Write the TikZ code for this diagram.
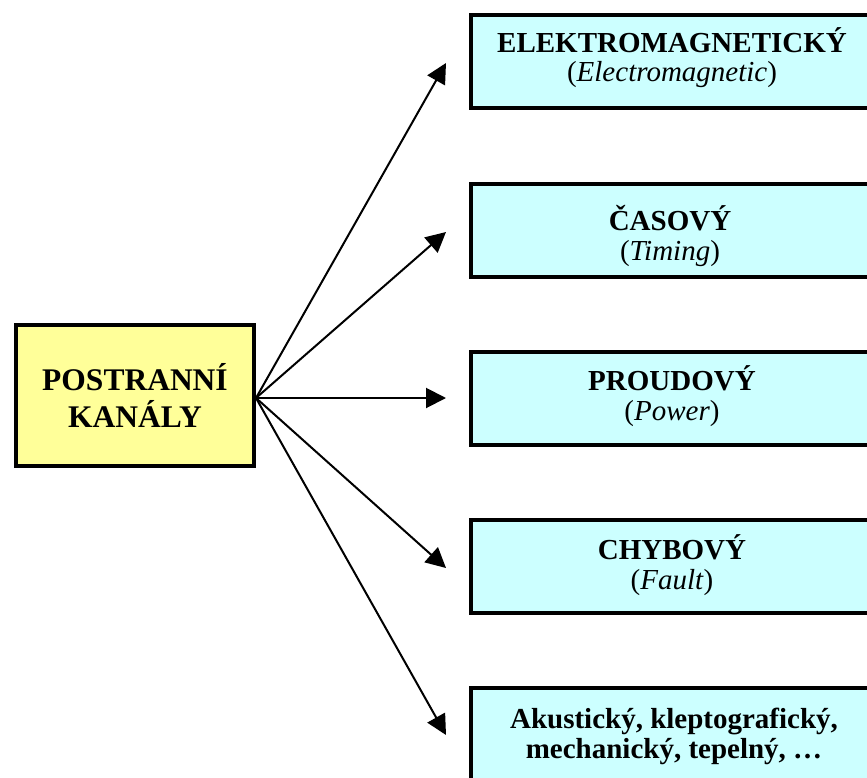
\documentclass[tikz,border=0pt]{standalone}
\usepackage{fontspec}
\setmainfont{Liberation Serif}
\usetikzlibrary{arrows.meta}
\definecolor{hubfill}{HTML}{FFFF99}
\definecolor{leaffill}{HTML}{CCFFFF}
\begin{document}
\begin{tikzpicture}[x=1pt,y=-1pt,
  hubbox/.style={draw=black, line width=4pt, fill=hubfill,
    minimum width=238pt, minimum height=141pt, inner sep=0pt},
  leafbox/.style={draw=black, line width=4pt, fill=leaffill,
    minimum width=404pt, minimum height=93pt, inner sep=0pt},
  head/.style={font=\bfseries\fontsize{29}{30}\selectfont, anchor=base, inner sep=0pt},
  sub/.style={font=\fontsize{29}{30}\selectfont, anchor=base, inner sep=0pt},
  hubtext/.style={font=\bfseries\fontsize{31.5}{36}\selectfont, anchor=base, inner sep=0pt},
  link/.style={line width=2pt, -{Triangle[length=20pt,width=20pt]}}
]
\useasboundingbox (0,0) rectangle (867,778);
\clip (0,0) rectangle (867,778);

% source box
\node[hubbox] (hub) at (135,395.5) {};
\node[hubtext] (hubA) at (135,390) {POSTRANNÍ};
\node[hubtext] (hubB) at (135,427) {KANÁLY};

% channel boxes
\node[leafbox] (em) at (673,61.5) {};
\node[head] (emA) at (672,53) {ELEKTROMAGNETICKÝ};
\node[sub]  (emB) at (672,82) {(\textit{Electromagnetic})};

\node[leafbox] (tm) at (673,230.5) {};
\node[head] (tmA) at (670,230) {ČASOVÝ};
\node[sub]  (tmB) at (670,260) {(\textit{Timing})};

\node[leafbox] (pw) at (673,398.5) {};
\node[head] (pwA) at (672,390) {PROUDOVÝ};
\node[sub]  (pwB) at (672,420) {(\textit{Power})};

\node[leafbox] (ft) at (673,566.5) {};
\node[head] (ftA) at (672,559) {CHYBOVÝ};
\node[sub]  (ftB) at (672,589) {(\textit{Fault})};

\node[leafbox] (ot) at (673,734.5) {};
\node[head] (otA) at (674,728) {Akustický, kleptografický,};
\node[head] (otB) at (674,758) {mechanický, tepelný, …};

% connectors fan out from one point on the source box
\coordinate (src) at (256,398);
\coordinate (toEm) at (446,63);
\coordinate (toTm) at (446,232);
\coordinate (toPw) at (446,398);
\coordinate (toFt) at (446,568);
\coordinate (toOt) at (446,735);

\draw[link] (src) -- (toEm);
\draw[link] (src) -- (toTm);
\draw[link] (src) -- (toPw);
\draw[link] (src) -- (toFt);
\draw[link] (src) -- (toOt);
\end{tikzpicture}
\end{document}
